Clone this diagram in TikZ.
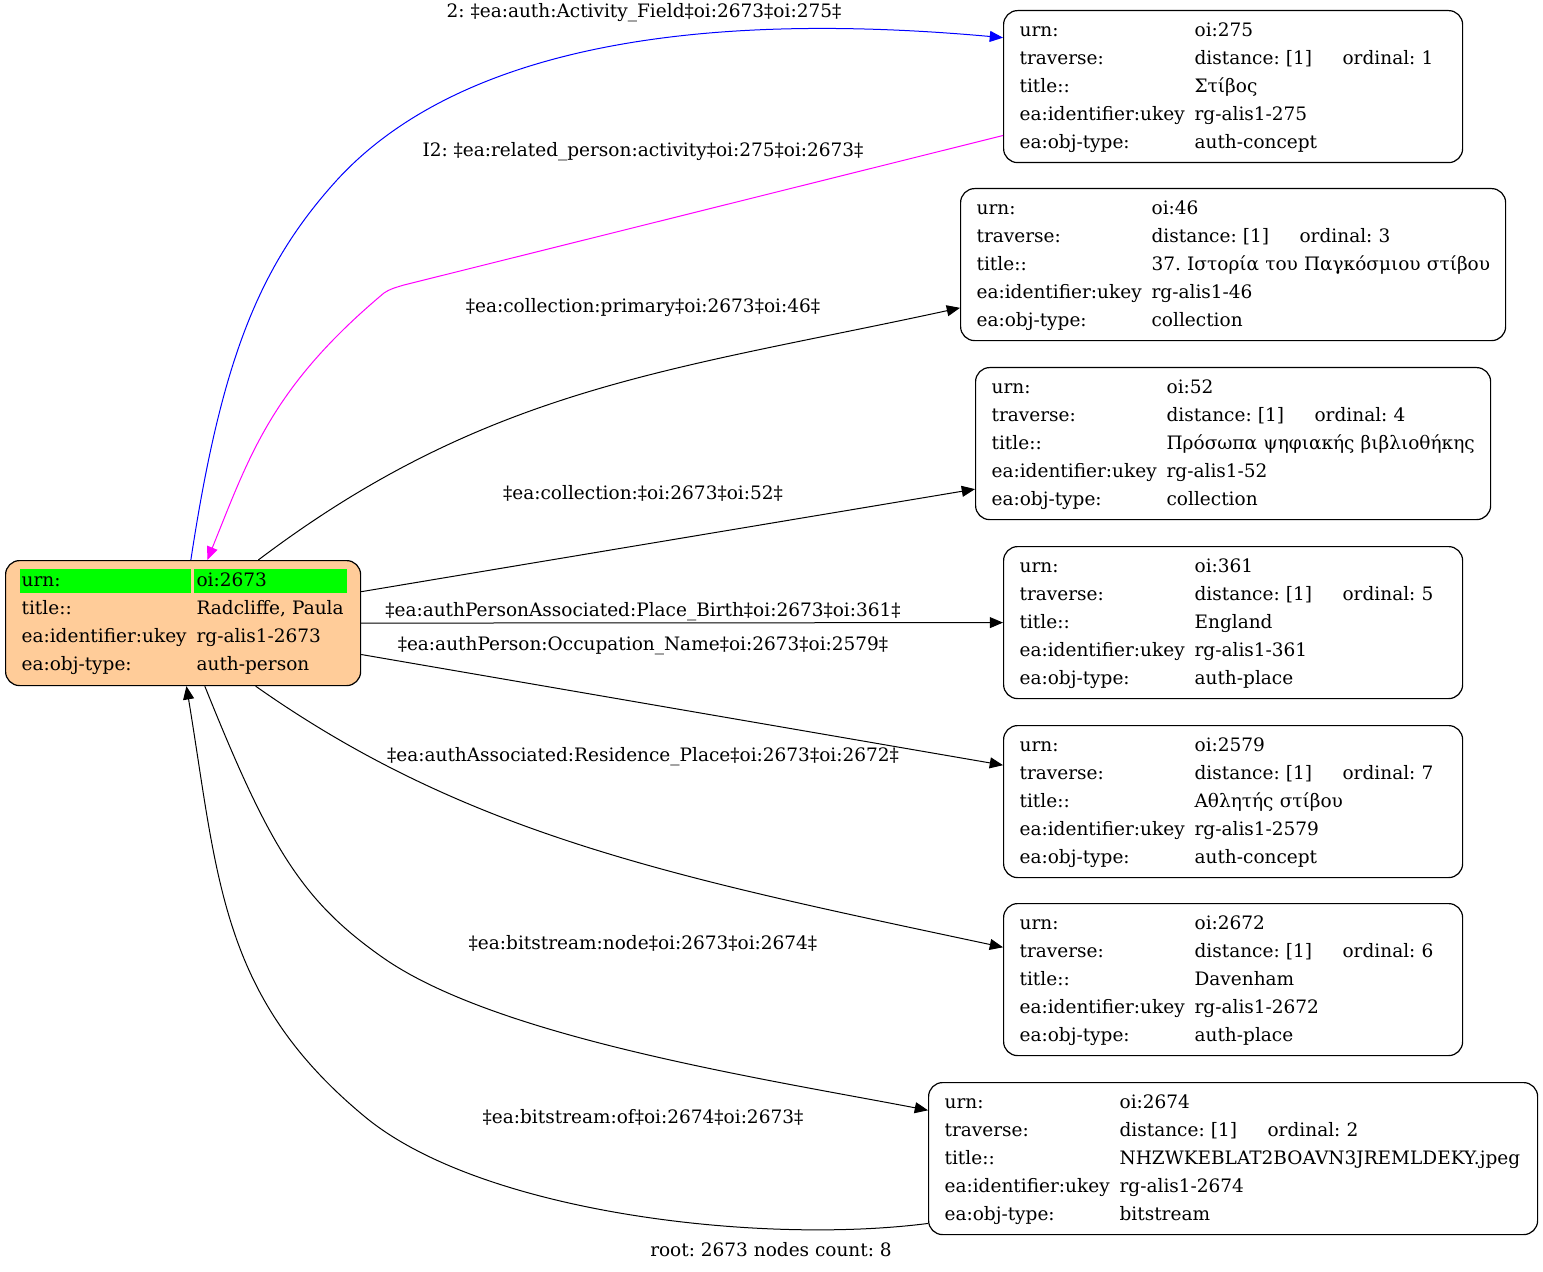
\documentclass[tikz,border=0pt]{standalone}
\usepackage{fontspec}
\setmainfont{DejaVu Serif}
\usetikzlibrary{arrows}
\definecolor{peach}{RGB}{255,204,153}
\definecolor{urngreen}{RGB}{0,255,0}
\definecolor{relblue}{RGB}{0,0,255}
\definecolor{relmag}{RGB}{255,0,255}
\newcommand{\kv}[2]{\makebox[87.5bp][l]{#1}\mbox{#2}\strut}
\newcommand{\trv}[1]{\makebox[87.5bp][l]{traverse:}\makebox[74bp][l]{distance: [1]}ordinal: #1\strut}
\newcommand{\urnrow}[2]{\makebox[87.5bp][l]{\hspace{-1bp}\rlap{\color{urngreen}\rule[-3bp]{85.5bp}{12bp}}\hspace{1bp}#1}%
  \hspace{-1.5bp}\rlap{\color{urngreen}\rule[-3bp]{76.5bp}{12bp}}\hspace{1.5bp}#2\strut}

\begin{document}
\frenchspacing
\begin{tikzpicture}[x=0.5bp,y=-0.5bp,font=\fontsize{9.25bp}{14bp}\selectfont]
			\tikzstyle{es} = [-triangle 45, line width=0.5bp]
			\tikzstyle{rec} = [draw, line width=0.6bp, rounded corners=7bp, anchor=north west, align=left, inner xsep=8bp, inner ysep=3bp, fill=white]
			\tikzstyle{lbl} = [inner sep=0pt]
			\useasboundingbox (0,0) rectangle (1543,1272);
			% root
			\node [rec, fill=peach, inner ysep=3.25bp, text width=161.5bp] (n2673) at (5,560) {\urnrow{urn:}{oi:2673}\\ \kv{title::}{Radcliffe, Paula}\\ \kv{ea:identifier:ukey}{rg-alis1-2673}\\ \kv{ea:obj-type:}{auth-person}};
			% neighbours
			\node [rec, text width=213.5bp] (n275) at (1003,10) {\kv{urn:}{oi:275}\\ \trv{1}\\ \kv{title::}{Στίβος}\\ \kv{ea:identifier:ukey}{rg-alis1-275}\\ \kv{ea:obj-type:}{auth-concept}};
			\node [rec, text width=256.5bp] (n46) at (960,188) {\kv{urn:}{oi:46}\\ \trv{3}\\ \kv{title::}{37. Ιστορία του Παγκόσμιου στίβου}\\ \kv{ea:identifier:ukey}{rg-alis1-46}\\ \kv{ea:obj-type:}{collection}};
			\node [rec, text width=241.5bp] (n52) at (975,367) {\kv{urn:}{oi:52}\\ \trv{4}\\ \kv{title::}{Πρόσωπα ψηφιακής βιβλιοθήκης}\\ \kv{ea:identifier:ukey}{rg-alis1-52}\\ \kv{ea:obj-type:}{collection}};
			\node [rec, text width=213.5bp] (n361) at (1003,546) {\kv{urn:}{oi:361}\\ \trv{5}\\ \kv{title::}{England}\\ \kv{ea:identifier:ukey}{rg-alis1-361}\\ \kv{ea:obj-type:}{auth-place}};
			\node [rec, text width=213.5bp] (n2579) at (1003,725) {\kv{urn:}{oi:2579}\\ \trv{7}\\ \kv{title::}{Αθλητής στίβου}\\ \kv{ea:identifier:ukey}{rg-alis1-2579}\\ \kv{ea:obj-type:}{auth-concept}};
			\node [rec, text width=213.5bp] (n2672) at (1003,903) {\kv{urn:}{oi:2672}\\ \trv{6}\\ \kv{title::}{Davenham}\\ \kv{ea:identifier:ukey}{rg-alis1-2672}\\ \kv{ea:obj-type:}{auth-place}};
			\node [rec, text width=288.5bp] (n2674) at (928,1082) {\kv{urn:}{oi:2674}\\ \trv{2}\\ \kv{title::}{NHZWKEBLAT2BOAVN3JREMLDEKY.jpeg}\\ \kv{ea:identifier:ukey}{rg-alis1-2674}\\ \kv{ea:obj-type:}{bitstream}};
			% edges
			\draw [es, relblue] (n2673.83) .. controls (221,362) and (258,267) .. (337,180) .. controls (424,85) and (607,0) .. (n275.168);
			\draw [es, relmag] (n275.192) -- (404,285) .. controls (394,288) and (390,289) .. (384,293) .. controls (267,391) and (248,461) .. (n2673.69);
			\draw [es] (n2673.40) .. controls (491,384) and (677,370) .. (n46.189);
			\draw [es] (n2673.10) -- (n52.190);
			\draw [es] (n2673.east) -- (n361.west);
			\draw [es] (n2673.-10) -- (n2579.171);
			\draw [es] (n2673.-41) .. controls (471,838) and (683,879) .. (n2672.172);
			\draw [es] (n2673.-71) .. controls (269,846) and (301,900) .. (382,957) .. controls (498,1039) and (772,1080) .. (n2674.171);
			\draw [es] (n2674.192) .. controls (760,1245) and (480,1213) .. (364,1116) .. controls (217,994) and (218,873) .. (n2673.-87);
			% edge labels
			\node [lbl] (l275) at (644,13) {2: ‡ea:auth:Activity\_Field‡oi:2673‡oi:275‡};
			\node [lbl] (l275b) at (643,152) {I2: ‡ea:related\_person:activity‡oi:275‡oi:2673‡};
			\node [lbl] (l46) at (643,308) {‡ea:collection:primary‡oi:2673‡oi:46‡};
			\node [lbl] (l52) at (643,493) {‡ea:collection:‡oi:2673‡oi:52‡};
			\node [lbl] (l361) at (643,612) {‡ea:authPersonAssociated:Place\_Birth‡oi:2673‡oi:361‡};
			\node [lbl] (l2579) at (643,646) {‡ea:authPerson:Occupation\_Name‡oi:2673‡oi:2579‡};
			\node [lbl] (l2672) at (643,757) {‡ea:authAssociated:Residence\_Place‡oi:2673‡oi:2672‡};
			\node [lbl] (l2674) at (643,943) {‡ea:bitstream:node‡oi:2673‡oi:2674‡};
			\node [lbl] (l2674b) at (643,1117) {‡ea:bitstream:of‡oi:2674‡oi:2673‡};
			\node [lbl] (cap) at (771,1250) {root: 2673 nodes count: 8};
		\end{tikzpicture}
\end{document}
